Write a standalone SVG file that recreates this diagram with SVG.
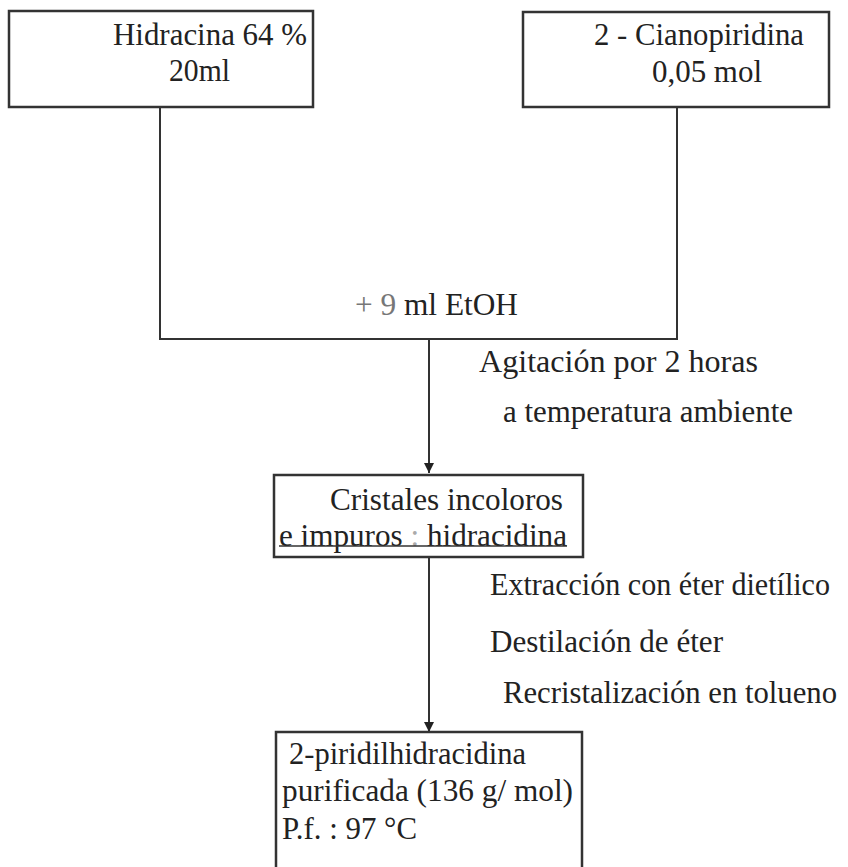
<svg xmlns="http://www.w3.org/2000/svg" width="848" height="867" viewBox="0 0 848 867">
<style>
.box{fill:#fff;stroke:#333;stroke-width:2.5}
.conn{fill:none;stroke:#333;stroke-width:2}
text{font-family:"Liberation Serif","Times New Roman",Tinos,serif;font-size:31px;fill:#222}
.gray{fill:#777}
</style>
<defs>
<marker id="arr" viewBox="0 0 10 10" refX="10" refY="5" markerWidth="10" markerHeight="10" markerUnits="userSpaceOnUse" orient="auto">
<path d="M0,0 L10,5 L0,10 z" fill="#222"/>
</marker>
</defs>
<rect width="848" height="867" fill="#fff"/>
<g id="connectors">
<polyline class="conn" points="160,107 160,339 677,339 677,107"/>
<line class="conn" x1="429" y1="339" x2="429" y2="473" marker-end="url(#arr)"/>
<line class="conn" x1="429" y1="557" x2="429" y2="732" marker-end="url(#arr)"/>
</g>
<g id="hidracina">
<rect class="box" x="9" y="11" width="304" height="96"/>
<text x="113" y="45" textLength="194" lengthAdjust="spacingAndGlyphs">Hidracina 64 %</text>
<text x="169" y="81" textLength="61" lengthAdjust="spacingAndGlyphs">20ml</text>
</g>
<g id="cianopiridina">
<rect class="box" x="523" y="12" width="306" height="95"/>
<text x="594" y="45" textLength="210" lengthAdjust="spacingAndGlyphs">2 - Cianopiridina</text>
<text x="652" y="82" textLength="110" lengthAdjust="spacingAndGlyphs">0,05 mol</text>
</g>
<g id="etoh">
<text x="355" y="315" textLength="163" lengthAdjust="spacingAndGlyphs"><tspan class="gray">+ 9 </tspan>ml EtOH</text>
</g>
<g id="agitacion">
<text x="479" y="372" textLength="279" lengthAdjust="spacingAndGlyphs">Agitación por  2 horas</text>
<text x="503" y="422" textLength="290" lengthAdjust="spacingAndGlyphs">a temperatura ambiente</text>
</g>
<g id="cristales">
<rect class="box" x="274" y="475" width="309" height="82"/>
<text x="330" y="510" textLength="233" lengthAdjust="spacingAndGlyphs">Cristales incoloros</text>
<text x="279" y="546" textLength="288" lengthAdjust="spacingAndGlyphs">e impuros <tspan fill="#aaa">:</tspan> hidracidina</text>
<line x1="279" y1="546" x2="567" y2="546" stroke="#333" stroke-width="1.5"/>
</g>
<g id="pasos">
<text x="490" y="595" textLength="340" lengthAdjust="spacingAndGlyphs">Extracción con éter dietílico</text>
<text x="490" y="652" textLength="233" lengthAdjust="spacingAndGlyphs">Destilación de éter</text>
<text x="503" y="703" textLength="334" lengthAdjust="spacingAndGlyphs">Recristalización en tolueno</text>
</g>
<g id="producto">
<rect class="box" x="276" y="732" width="306" height="150"/>
<text x="289" y="764" textLength="237" lengthAdjust="spacingAndGlyphs">2-piridilhidracidina</text>
<text x="282" y="801" textLength="291" lengthAdjust="spacingAndGlyphs">purificada (136 g/ mol)</text>
<text x="282" y="839" textLength="135" lengthAdjust="spacingAndGlyphs">P.f. : 97 °C</text>
</g>
</svg>
